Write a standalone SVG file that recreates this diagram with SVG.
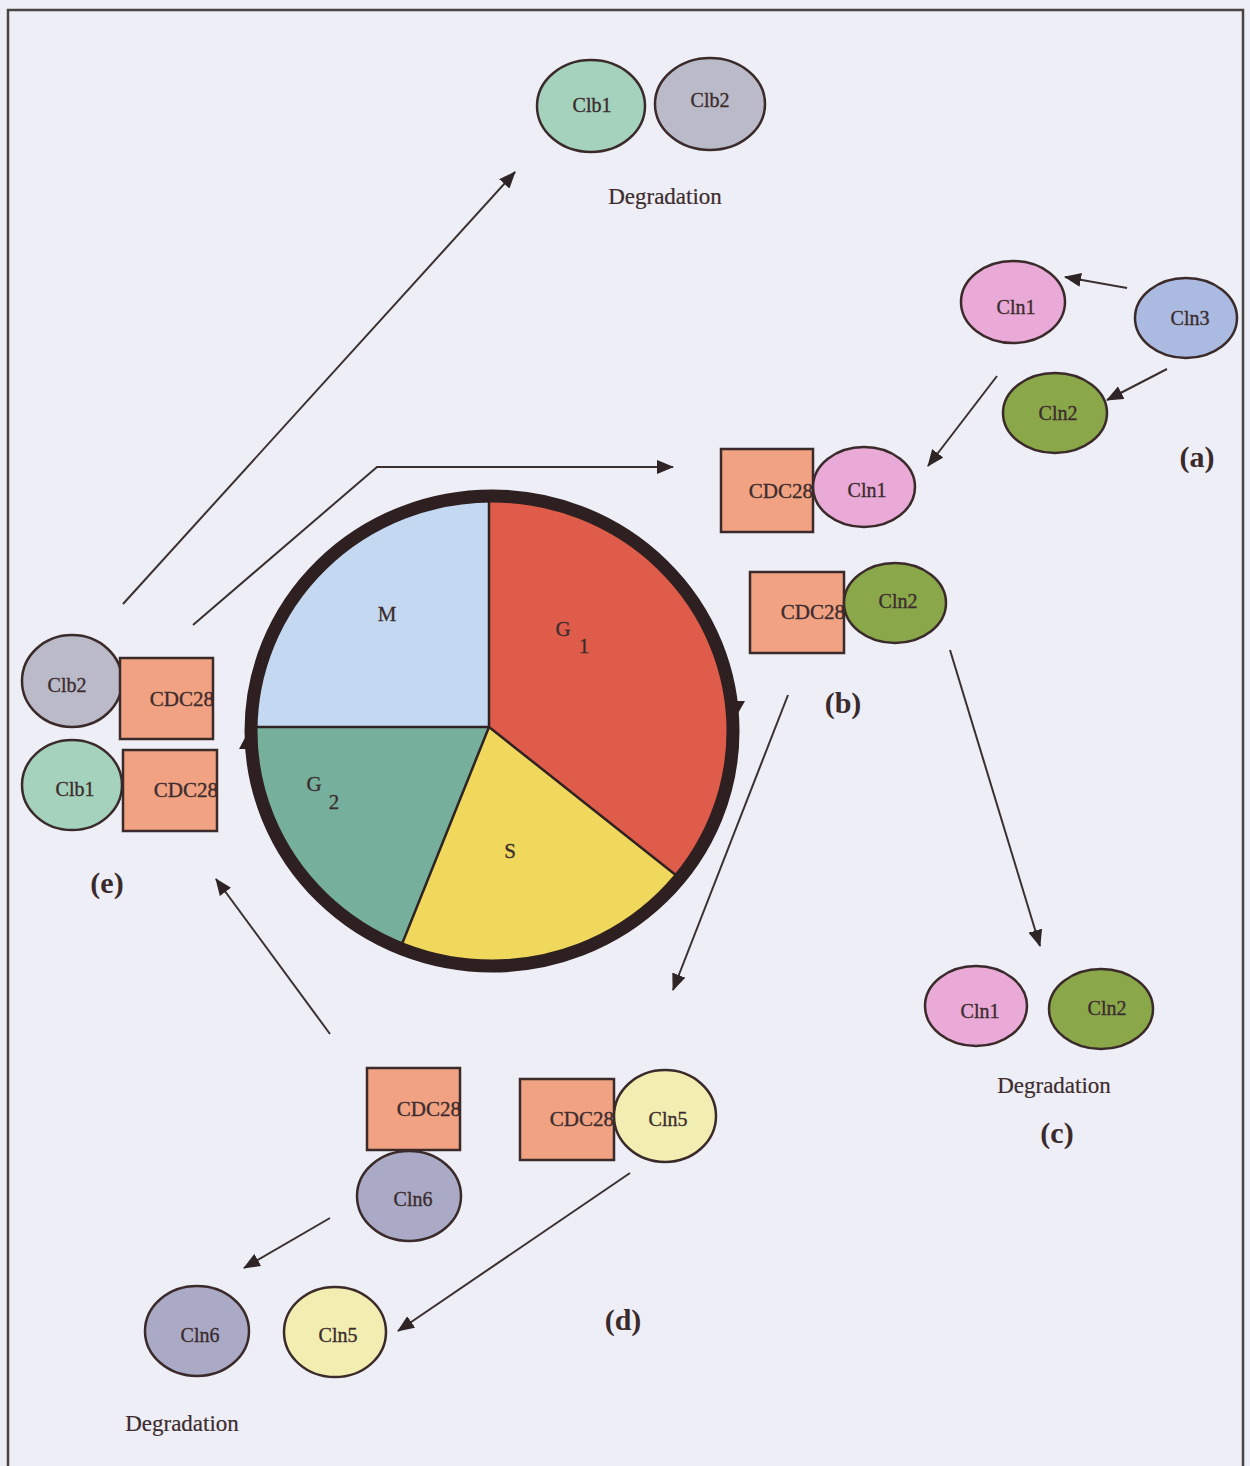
<svg xmlns="http://www.w3.org/2000/svg" width="1250" height="1466" viewBox="0 0 1250 1466">
  <defs>
    <marker id="arrow" markerUnits="userSpaceOnUse" markerWidth="18" markerHeight="14" refX="16" refY="7" orient="auto">
      <path d="M0,0 L17,7 L0,14 Z" fill="#2f2426"/>
    </marker>
    <clipPath id="wheel-clip">
      <ellipse cx="492" cy="731" rx="241" ry="235"/>
    </clipPath>
    <style>
      .bg { fill: #eeeef6; }
      .frame { fill: none; stroke: #4a4444; stroke-width: 2.5; }
      .node { stroke: #3a2a2a; stroke-width: 2.5; }
      .box { fill: #f0a282; stroke: #3a2a2a; stroke-width: 2.5; }
      .lbl { font-family: "Liberation Serif", "Times New Roman", serif; font-size: 20px; fill: #3c2c2e; stroke: #3c2c2e; stroke-width: 0.35; text-anchor: middle; }
      .cdc { font-family: "Liberation Serif", "Times New Roman", serif; font-size: 21px; fill: #3c2c2e; stroke: #3c2c2e; stroke-width: 0.35; text-anchor: end; }
      .deg { font-family: "Liberation Serif", "Times New Roman", serif; font-size: 23px; fill: #3c2c2e; stroke: #3c2c2e; stroke-width: 0.2; text-anchor: middle; }
      .tag { font-family: "Liberation Serif", "Times New Roman", serif; font-size: 30px; font-weight: bold; fill: #3a2a2c; text-anchor: middle; }
      .phase { font-family: "Liberation Serif", "Times New Roman", serif; font-size: 21px; fill: #3c2c2e; stroke: #3c2c2e; stroke-width: 0.3; text-anchor: middle; }
      .edge { fill: none; stroke: #3a3030; stroke-width: 2; }
      .cln1 { fill: #eaaad8; }
      .cln2 { fill: #8aa84a; }
      .cln3 { fill: #aabae0; }
      .cln5 { fill: #f2eeb2; }
      .cln6 { fill: #aaaac6; }
      .clb1 { fill: #a4d2bc; }
      .clb2 { fill: #babac8; }
    </style>
  </defs>

  <rect class="bg" x="0" y="0" width="1250" height="1466"/>
  <path class="frame" d="M8,1470 L8,10 L1243,10 L1243,1470"/>

  <!-- cell cycle wheel: four phase wedges clipped to the rim -->
  <g id="cycle">
    <g clip-path="url(#wheel-clip)">
      <polygon points="489,727 489,400 150,400 150,727" fill="#c4d8f2"/>
      <polygon points="489,727 489,400 850,400 850,1013" fill="#e05c4a"/>
      <polygon points="489,727 850,1013 850,1100 340,1100" fill="#f0d85c"/>
      <polygon points="489,727 340,1100 150,1100 150,727" fill="#76b09c"/>
    </g>
    <path d="M489,495 L489,727 L252,727 M489,727 L677,876 M489,727 L402,944" fill="none" stroke="#2e2222" stroke-width="2.5"/>
    <ellipse cx="492" cy="731" rx="241" ry="235" fill="none" stroke="#2e2020" stroke-width="13"/>
    <polygon points="729,701 745,701 737,715" fill="#2e2020"/>
    <polygon points="239,749 255,749 247,734" fill="#2e2020"/>
    <text class="phase" x="387" y="621">M</text>
    <text class="phase" x="563" y="636">G</text>
    <text class="phase" x="584" y="653">1</text>
    <text class="phase" x="314" y="791">G</text>
    <text class="phase" x="334" y="809">2</text>
    <text class="phase" x="510" y="858">S</text>
  </g>

  <!-- connectors -->
  <g id="connectors">
    <line class="edge" x1="123" y1="604" x2="515" y2="172" marker-end="url(#arrow)"/>
    <polyline class="edge" points="193,625 377,467 673,467" marker-end="url(#arrow)"/>
    <line class="edge" x1="997" y1="376" x2="928" y2="466" marker-end="url(#arrow)"/>
    <line class="edge" x1="1127" y1="288" x2="1065" y2="277" marker-end="url(#arrow)"/>
    <line class="edge" x1="1167" y1="369" x2="1107" y2="400" marker-end="url(#arrow)"/>
    <line class="edge" x1="788" y1="695" x2="673" y2="990" marker-end="url(#arrow)"/>
    <line class="edge" x1="950" y1="650" x2="1040" y2="946" marker-end="url(#arrow)"/>
    <line class="edge" x1="630" y1="1173" x2="398" y2="1331" marker-end="url(#arrow)"/>
    <line class="edge" x1="330" y1="1218" x2="244" y2="1268" marker-end="url(#arrow)"/>
    <line class="edge" x1="330" y1="1034" x2="216" y2="879" marker-end="url(#arrow)"/>
  </g>

  <!-- Clb degradation (top) -->
  <g id="clb-degradation">
    <ellipse class="node clb1" cx="591" cy="106" rx="54" ry="46"/>
    <text class="lbl" x="592" y="112">Clb1</text>
    <ellipse class="node clb2" cx="710" cy="104" rx="55" ry="46"/>
    <text class="lbl" x="710" y="107">Clb2</text>
    <text class="deg" x="665" y="204">Degradation</text>
  </g>

  <!-- (a) Cln3 activates Cln1 and Cln2 -->
  <g id="panel-a">
    <ellipse class="node cln1" cx="1013" cy="302" rx="52" ry="41"/>
    <text class="lbl" x="1016" y="314">Cln1</text>
    <ellipse class="node cln3" cx="1186" cy="318" rx="51" ry="40"/>
    <text class="lbl" x="1190" y="325">Cln3</text>
    <ellipse class="node cln2" cx="1055" cy="413" rx="52" ry="40"/>
    <text class="lbl" x="1058" y="420">Cln2</text>
    <text class="tag" x="1197" y="467">(a)</text>
  </g>

  <!-- (b) CDC28 with Cln1 / Cln2 -->
  <g id="panel-b">
    <rect class="box" x="721" y="449" width="92" height="83"/>
    <text class="cdc" x="813" y="498">CDC28</text>
    <ellipse class="node cln1" cx="864" cy="487" rx="51" ry="40"/>
    <text class="lbl" x="867" y="497">Cln1</text>
    <rect class="box" x="750" y="572" width="94" height="81"/>
    <text class="cdc" x="845" y="619">CDC28</text>
    <ellipse class="node cln2" cx="895" cy="603" rx="51" ry="40"/>
    <text class="lbl" x="898" y="608">Cln2</text>
    <text class="tag" x="843" y="713">(b)</text>
  </g>

  <!-- (c) Cln1 / Cln2 degradation -->
  <g id="panel-c">
    <ellipse class="node cln1" cx="976" cy="1006" rx="51" ry="40"/>
    <text class="lbl" x="980" y="1018">Cln1</text>
    <ellipse class="node cln2" cx="1101" cy="1009" rx="52" ry="40"/>
    <text class="lbl" x="1107" y="1015">Cln2</text>
    <text class="deg" x="1054" y="1093">Degradation</text>
    <text class="tag" x="1057" y="1143">(c)</text>
  </g>

  <!-- (d) CDC28 with Cln5 / Cln6 -->
  <g id="panel-d">
    <rect class="box" x="367" y="1068" width="93" height="82"/>
    <text class="cdc" x="461" y="1116">CDC28</text>
    <ellipse class="node cln6" cx="409" cy="1196" rx="52" ry="45"/>
    <text class="lbl" x="413" y="1206">Cln6</text>
    <rect class="box" x="520" y="1079" width="94" height="81"/>
    <text class="cdc" x="614" y="1126">CDC28</text>
    <ellipse class="node cln5" cx="665" cy="1116" rx="51" ry="46"/>
    <text class="lbl" x="668" y="1126">Cln5</text>
    <text class="tag" x="623" y="1330">(d)</text>
  </g>

  <!-- Cln5 / Cln6 degradation -->
  <g id="cln-degradation">
    <ellipse class="node cln6" cx="197" cy="1331" rx="52" ry="45"/>
    <text class="lbl" x="200" y="1342">Cln6</text>
    <ellipse class="node cln5" cx="335" cy="1332" rx="51" ry="45"/>
    <text class="lbl" x="338" y="1342">Cln5</text>
    <text class="deg" x="182" y="1431">Degradation</text>
  </g>

  <!-- (e) CDC28 with Clb1 / Clb2 -->
  <g id="panel-e">
    <ellipse class="node clb2" cx="72" cy="681" rx="50" ry="46"/>
    <text class="lbl" x="67" y="692">Clb2</text>
    <rect class="box" x="120" y="658" width="93" height="81"/>
    <text class="cdc" x="214" y="706">CDC28</text>
    <ellipse class="node clb1" cx="72" cy="785" rx="50" ry="45"/>
    <text class="lbl" x="75" y="796">Clb1</text>
    <rect class="box" x="123" y="750" width="94" height="81"/>
    <text class="cdc" x="218" y="797">CDC28</text>
    <text class="tag" x="107" y="893">(e)</text>
  </g>
</svg>
